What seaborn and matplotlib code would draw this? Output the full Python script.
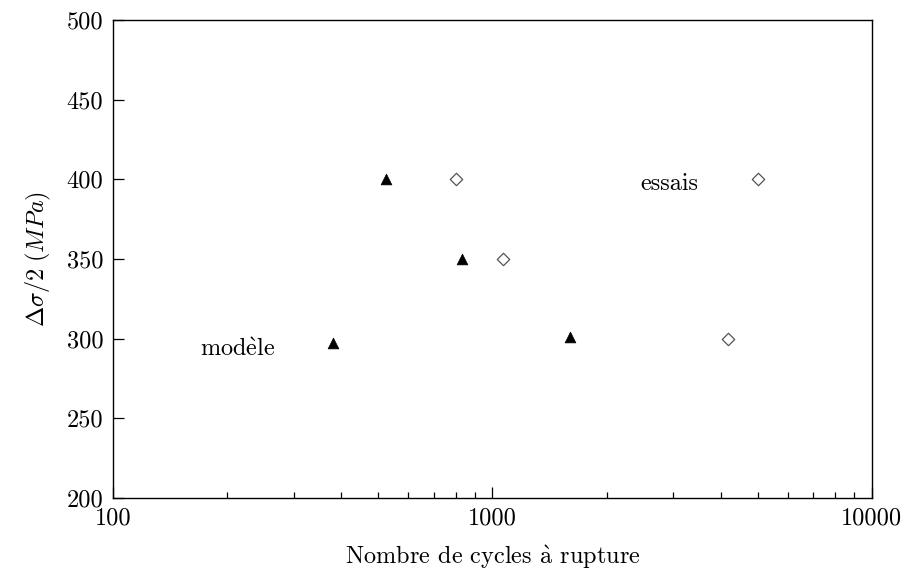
import matplotlib
matplotlib.use("Agg")
import matplotlib.pyplot as plt
import seaborn as sns
import pandas as pd

# Fatigue life: stress amplitude vs number of cycles to failure
model_cycles = [524, 831, 380, 1600]
model_stress = [400, 350, 297, 301]
test_cycles = [801, 1066, 5007, 4175]
test_stress = [400, 350, 400, 300]
y_ticks = [200, 250, 300, 350, 400, 450, 500]
x_ticks = [100, 1000, 10000]

sns.set_theme(style="white")
plt.rcParams["font.family"] = ["cmr10", "DejaVu Serif"]
plt.rcParams["mathtext.fontset"] = "cm"
plt.rcParams["axes.formatter.use_mathtext"] = True
plt.rcParams["text.color"] = "black"
plt.rcParams["axes.labelcolor"] = "black"

FS = 17.5

fig = plt.figure(figsize=(9.11, 5.78), dpi=100)
ax = fig.add_axes([0.124, 0.1384, 0.833, 0.827])

df_model = pd.DataFrame({"N": model_cycles, "S": model_stress})
df_test = pd.DataFrame({"N": test_cycles, "S": test_stress})

sns.scatterplot(data=df_model, x="N", y="S", marker="^", s=60, color="black",
                edgecolor="black", linewidth=0.5, ax=ax, zorder=3)
sns.scatterplot(data=df_test, x="N", y="S", marker="D", s=40, facecolor="white",
                edgecolor="#555555", linewidth=0.9, ax=ax, zorder=3)

ax.set_xscale("log")
ax.set_xlim(100, 10000)
ax.set_ylim(200, 500)
ax.set_xticks(x_ticks)
ax.set_xticklabels([str(v) for v in x_ticks])
ax.set_yticks(y_ticks)
ax.set_yticklabels([str(v) for v in y_ticks])

for s in ax.spines.values():
    s.set_color("black")
    s.set_linewidth(1.0)

ax.tick_params(axis="both", which="both", direction="in", top=False, right=False,
               left=True, bottom=True, labelsize=FS, colors="black")
ax.tick_params(axis="both", which="major", length=8, width=0.9, pad=7)
ax.tick_params(axis="x", which="minor", length=4, width=0.9)

ax.set_xlabel(r"Nombre de cycles $\grave{\mathrm{a}}$ rupture", fontsize=FS,
              labelpad=10, color="black")
ax.set_ylabel(r"$\Delta\sigma/2\ (MPa)$", fontsize=FS, labelpad=10, color="black")

ax.text(170, 293, r"mod$\grave{\mathrm{e}}$le", fontsize=FS, ha="left",
        va="center", color="black")
ax.text(2460, 397, "essais", fontsize=FS, ha="left", va="center", color="black")

fig.savefig("out.png", dpi=100)
